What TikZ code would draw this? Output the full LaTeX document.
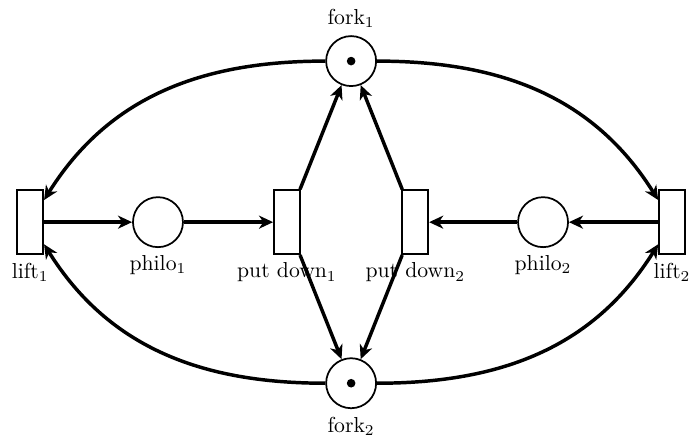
\documentclass[tikz,border=0pt]{standalone}
\usepackage{tikz}
\usetikzlibrary{arrows.meta, positioning}

\begin{document}
\begin{tikzpicture}[
    place/.style={circle, draw, line width=0.8pt, minimum size=0.81cm, inner sep=0pt},
    transition/.style={rectangle, draw, line width=0.8pt, minimum width=0.42cm,
      minimum height=1.04cm, inner sep=0pt},
    token/.style={circle, fill, inner sep=0pt, minimum size=0.14cm},
    arc/.style={line width=1.6pt, -{Stealth[length=6.5pt, width=6pt, inset=2pt]}}
  ]
  \useasboundingbox (-5.69,-3.58) rectangle (5.54,3.60);

% places
\node[place, label=above:fork$_1$] (fork1) at (0,2.61) {};
\node[place, label=below:fork$_2$] (fork2) at (0,-2.61) {};
\node[place, label=below:philo$_1$] (philo1) at (-3.13,0) {};
\node[place, label=below:philo$_2$] (philo2) at (3.11,0) {};
\node[token] at (fork1) {};
\node[token] at (fork2) {};

% transitions
\node[transition, label=below:lift$_1$] (lift1) at (-5.2,0) {};
\node[transition, label=below:lift$_2$] (lift2) at (5.2,0) {};
\node[transition, label=below:put down$_1$] (down1) at (-1.04,0) {};
\node[transition, label=below:put down$_2$] (down2) at (1.04,0) {};

% arcs
\draw[arc] (lift1) -- (philo1);
\draw[arc] (philo1) -- (down1);
\draw[arc] (lift2) -- (philo2);
\draw[arc] (philo2) -- (down2);
\draw[arc] (down1) -- (fork1);
\draw[arc] (down1) -- (fork2);
\draw[arc] (down2) -- (fork1);
\draw[arc] (down2) -- (fork2);

\draw[arc] (fork1) to[out=180, in=58] (lift1);
\draw[arc] (fork2) to[out=180, in=-58] (lift1);
\draw[arc] (fork1) to[out=0, in=122] (lift2);
\draw[arc] (fork2) to[out=0, in=238] (lift2);

\end{tikzpicture}
\end{document}
